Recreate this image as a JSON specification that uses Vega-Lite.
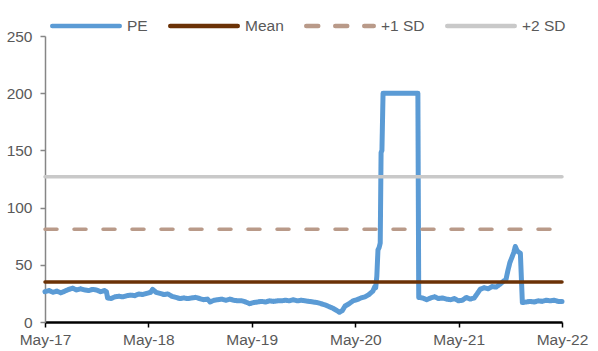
{
  "$schema": "https://vega.github.io/schema/vega-lite/v6.json",
  "width": 517,
  "height": 286,
  "autosize": {"type": "none"},
  "padding": {"left": 45, "top": 36, "right": 36, "bottom": 29},
  "background": "white",
  "config": {
    "font": "Liberation Sans",
    "view": {"stroke": null},
    "axis": {"grid": false, "title": null, "labelFont": "Liberation Sans", "labelFontSize": 15.5, "labelColor": "#595959"}
  },
  "datasets": {
    "pe": [
      {"series": "PE", "date": "2017-05-01", "value": 26.5},
      {"series": "PE", "date": "2017-05-15", "value": 27.5},
      {"series": "PE", "date": "2017-05-29", "value": 26},
      {"series": "PE", "date": "2017-06-12", "value": 27},
      {"series": "PE", "date": "2017-06-26", "value": 25.5},
      {"series": "PE", "date": "2017-07-10", "value": 27},
      {"series": "PE", "date": "2017-07-24", "value": 28.5},
      {"series": "PE", "date": "2017-08-07", "value": 29.5},
      {"series": "PE", "date": "2017-08-21", "value": 28},
      {"series": "PE", "date": "2017-09-04", "value": 29},
      {"series": "PE", "date": "2017-09-18", "value": 28},
      {"series": "PE", "date": "2017-10-02", "value": 27.5},
      {"series": "PE", "date": "2017-10-16", "value": 28.5},
      {"series": "PE", "date": "2017-10-30", "value": 28},
      {"series": "PE", "date": "2017-11-13", "value": 26.5},
      {"series": "PE", "date": "2017-11-27", "value": 27.5},
      {"series": "PE", "date": "2017-12-04", "value": 26.5},
      {"series": "PE", "date": "2017-12-08", "value": 21},
      {"series": "PE", "date": "2017-12-20", "value": 20.5},
      {"series": "PE", "date": "2018-01-03", "value": 22},
      {"series": "PE", "date": "2018-01-17", "value": 22.5},
      {"series": "PE", "date": "2018-01-31", "value": 22},
      {"series": "PE", "date": "2018-02-14", "value": 23},
      {"series": "PE", "date": "2018-02-28", "value": 23.5},
      {"series": "PE", "date": "2018-03-14", "value": 23},
      {"series": "PE", "date": "2018-03-28", "value": 24.5},
      {"series": "PE", "date": "2018-04-11", "value": 24},
      {"series": "PE", "date": "2018-04-25", "value": 25},
      {"series": "PE", "date": "2018-05-09", "value": 26},
      {"series": "PE", "date": "2018-05-16", "value": 28.5},
      {"series": "PE", "date": "2018-05-28", "value": 26},
      {"series": "PE", "date": "2018-06-11", "value": 25},
      {"series": "PE", "date": "2018-06-25", "value": 24},
      {"series": "PE", "date": "2018-07-09", "value": 24.5},
      {"series": "PE", "date": "2018-07-23", "value": 22.5},
      {"series": "PE", "date": "2018-08-06", "value": 21.5},
      {"series": "PE", "date": "2018-08-20", "value": 20.5},
      {"series": "PE", "date": "2018-09-03", "value": 21},
      {"series": "PE", "date": "2018-09-17", "value": 20.5},
      {"series": "PE", "date": "2018-10-01", "value": 21},
      {"series": "PE", "date": "2018-10-15", "value": 21.5},
      {"series": "PE", "date": "2018-10-29", "value": 20.5},
      {"series": "PE", "date": "2018-11-12", "value": 19.5},
      {"series": "PE", "date": "2018-11-26", "value": 20},
      {"series": "PE", "date": "2018-12-05", "value": 17.5},
      {"series": "PE", "date": "2018-12-19", "value": 19},
      {"series": "PE", "date": "2019-01-02", "value": 19.5},
      {"series": "PE", "date": "2019-01-16", "value": 20},
      {"series": "PE", "date": "2019-01-30", "value": 19},
      {"series": "PE", "date": "2019-02-13", "value": 20},
      {"series": "PE", "date": "2019-02-27", "value": 19},
      {"series": "PE", "date": "2019-03-13", "value": 18.5},
      {"series": "PE", "date": "2019-03-27", "value": 18.5},
      {"series": "PE", "date": "2019-04-10", "value": 17.5},
      {"series": "PE", "date": "2019-04-24", "value": 16},
      {"series": "PE", "date": "2019-05-08", "value": 17},
      {"series": "PE", "date": "2019-05-22", "value": 17.5},
      {"series": "PE", "date": "2019-06-05", "value": 18},
      {"series": "PE", "date": "2019-06-19", "value": 17.5},
      {"series": "PE", "date": "2019-07-03", "value": 18.5},
      {"series": "PE", "date": "2019-07-17", "value": 18},
      {"series": "PE", "date": "2019-07-31", "value": 18.5},
      {"series": "PE", "date": "2019-08-14", "value": 18.5},
      {"series": "PE", "date": "2019-08-28", "value": 19},
      {"series": "PE", "date": "2019-09-11", "value": 18.5},
      {"series": "PE", "date": "2019-09-25", "value": 19.5},
      {"series": "PE", "date": "2019-10-09", "value": 18.5},
      {"series": "PE", "date": "2019-10-23", "value": 19},
      {"series": "PE", "date": "2019-11-06", "value": 18.5},
      {"series": "PE", "date": "2019-11-20", "value": 18},
      {"series": "PE", "date": "2019-12-04", "value": 17.5},
      {"series": "PE", "date": "2019-12-18", "value": 17},
      {"series": "PE", "date": "2020-01-01", "value": 16},
      {"series": "PE", "date": "2020-01-15", "value": 15},
      {"series": "PE", "date": "2020-01-29", "value": 13.5},
      {"series": "PE", "date": "2020-02-12", "value": 12},
      {"series": "PE", "date": "2020-02-26", "value": 10},
      {"series": "PE", "date": "2020-03-06", "value": 8.5},
      {"series": "PE", "date": "2020-03-16", "value": 10},
      {"series": "PE", "date": "2020-03-26", "value": 14},
      {"series": "PE", "date": "2020-04-09", "value": 16},
      {"series": "PE", "date": "2020-04-23", "value": 18.5},
      {"series": "PE", "date": "2020-05-07", "value": 19.5},
      {"series": "PE", "date": "2020-05-21", "value": 21},
      {"series": "PE", "date": "2020-06-04", "value": 22},
      {"series": "PE", "date": "2020-06-18", "value": 24},
      {"series": "PE", "date": "2020-07-02", "value": 27},
      {"series": "PE", "date": "2020-07-09", "value": 31},
      {"series": "PE", "date": "2020-07-12", "value": 30},
      {"series": "PE", "date": "2020-07-16", "value": 40},
      {"series": "PE", "date": "2020-07-20", "value": 63},
      {"series": "PE", "date": "2020-07-24", "value": 65},
      {"series": "PE", "date": "2020-07-28", "value": 69},
      {"series": "PE", "date": "2020-07-31", "value": 148},
      {"series": "PE", "date": "2020-08-03", "value": 150},
      {"series": "PE", "date": "2020-08-07", "value": 200},
      {"series": "PE", "date": "2020-12-08", "value": 200},
      {"series": "PE", "date": "2020-12-11", "value": 21.5},
      {"series": "PE", "date": "2020-12-25", "value": 21},
      {"series": "PE", "date": "2021-01-08", "value": 19.5},
      {"series": "PE", "date": "2021-01-22", "value": 21},
      {"series": "PE", "date": "2021-02-05", "value": 22},
      {"series": "PE", "date": "2021-02-19", "value": 20.5},
      {"series": "PE", "date": "2021-03-05", "value": 21},
      {"series": "PE", "date": "2021-03-19", "value": 20},
      {"series": "PE", "date": "2021-04-02", "value": 19.5},
      {"series": "PE", "date": "2021-04-16", "value": 20.5},
      {"series": "PE", "date": "2021-04-30", "value": 18.5},
      {"series": "PE", "date": "2021-05-14", "value": 19},
      {"series": "PE", "date": "2021-05-28", "value": 21.5},
      {"series": "PE", "date": "2021-06-11", "value": 20},
      {"series": "PE", "date": "2021-06-25", "value": 21},
      {"series": "PE", "date": "2021-07-09", "value": 26},
      {"series": "PE", "date": "2021-07-16", "value": 28.5},
      {"series": "PE", "date": "2021-07-30", "value": 30},
      {"series": "PE", "date": "2021-08-13", "value": 29},
      {"series": "PE", "date": "2021-08-27", "value": 31},
      {"series": "PE", "date": "2021-09-10", "value": 30.5},
      {"series": "PE", "date": "2021-09-24", "value": 33},
      {"series": "PE", "date": "2021-10-08", "value": 36},
      {"series": "PE", "date": "2021-10-15", "value": 37},
      {"series": "PE", "date": "2021-10-22", "value": 45},
      {"series": "PE", "date": "2021-10-29", "value": 52},
      {"series": "PE", "date": "2021-11-06", "value": 57},
      {"series": "PE", "date": "2021-11-12", "value": 61},
      {"series": "PE", "date": "2021-11-17", "value": 66},
      {"series": "PE", "date": "2021-11-24", "value": 62},
      {"series": "PE", "date": "2021-12-05", "value": 60},
      {"series": "PE", "date": "2021-12-12", "value": 17},
      {"series": "PE", "date": "2021-12-26", "value": 17.5},
      {"series": "PE", "date": "2022-01-09", "value": 18},
      {"series": "PE", "date": "2022-01-23", "value": 17.5},
      {"series": "PE", "date": "2022-02-06", "value": 18.5},
      {"series": "PE", "date": "2022-02-20", "value": 18},
      {"series": "PE", "date": "2022-03-06", "value": 19},
      {"series": "PE", "date": "2022-03-20", "value": 18.5},
      {"series": "PE", "date": "2022-04-03", "value": 19},
      {"series": "PE", "date": "2022-04-17", "value": 18},
      {"series": "PE", "date": "2022-05-01", "value": 18}
    ],
    "bands": [
      {"series": "Mean", "date": "2017-05-01", "value": 35},
      {"series": "Mean", "date": "2022-05-01", "value": 35},
      {"series": "+1 SD", "date": "2017-05-01", "value": 81},
      {"series": "+1 SD", "date": "2022-05-01", "value": 81},
      {"series": "+2 SD", "date": "2017-05-01", "value": 127},
      {"series": "+2 SD", "date": "2022-05-01", "value": 127}
    ]
  },
  "encoding": {
    "x": {
      "field": "date",
      "type": "temporal",
      "scale": {
        "type": "utc",
        "domain": [
          {"year": 2017, "month": 5, "date": 1, "utc": true},
          {"year": 2022, "month": 5, "date": 1, "utc": true}
        ]
      },
      "axis": {
        "values": [
          {"year": 2017, "month": 5, "date": 1, "utc": true},
          {"year": 2018, "month": 5, "date": 1, "utc": true},
          {"year": 2019, "month": 5, "date": 1, "utc": true},
          {"year": 2020, "month": 5, "date": 1, "utc": true},
          {"year": 2021, "month": 5, "date": 1, "utc": true},
          {"year": 2022, "month": 5, "date": 1, "utc": true}
        ],
        "labelExpr": "utcFormat(datum.value, '%b-%y')",
        "domainColor": "#000000",
        "domainWidth": 2.5,
        "tickColor": "#000000",
        "tickWidth": 1.5,
        "tickSize": 5,
        "labelPadding": 5,
        "labelFlush": false,
        "labelOverlap": false
      }
    },
    "y": {
      "field": "value",
      "type": "quantitative",
      "scale": {"domain": [0, 250], "nice": false, "zero": true},
      "axis": {
        "values": [0, 50, 100, 150, 200, 250],
        "domainColor": "#868686",
        "domainWidth": 1.5,
        "tickColor": "#868686",
        "tickWidth": 1.5,
        "tickSize": 5,
        "labelPadding": 8
      }
    },
    "color": {
      "field": "series",
      "type": "nominal",
      "scale": {
        "domain": ["PE", "Mean", "+1 SD", "+2 SD"],
        "range": ["#5B9BD5", "#6B3206", "#B99A89", "#C9C9C9"]
      },
      "legend": {
        "title": null,
        "orient": "none",
        "legendX": 5,
        "legendY": -46,
        "direction": "horizontal",
        "columns": 4,
        "padding": 0,
        "symbolType": "M-1,0H1",
        "symbolSize": 4556,
        "symbolStrokeWidth": 4.5,
        "labelOffset": 5,
        "columnPadding": 13,
        "labelFont": "Liberation Sans",
        "labelFontSize": 15.5,
        "labelColor": "#595959",
        "encode": {"symbols": {"update": {"strokeCap": {"value": "round"}}}}
      }
    },
    "strokeDash": {
      "field": "series",
      "type": "nominal",
      "scale": {
        "domain": ["PE", "Mean", "+1 SD", "+2 SD"],
        "range": [[1, 0], [1, 0], [12, 17], [1, 0]]
      },
      "legend": null
    }
  },
  "layer": [
    {
      "data": {"name": "pe"},
      "mark": {"type": "line", "strokeWidth": 5, "strokeJoin": "round", "strokeCap": "round"}
    },
    {
      "data": {"name": "bands"},
      "mark": {"type": "line", "strokeWidth": 3.5, "strokeCap": "round"}
    }
  ]
}
